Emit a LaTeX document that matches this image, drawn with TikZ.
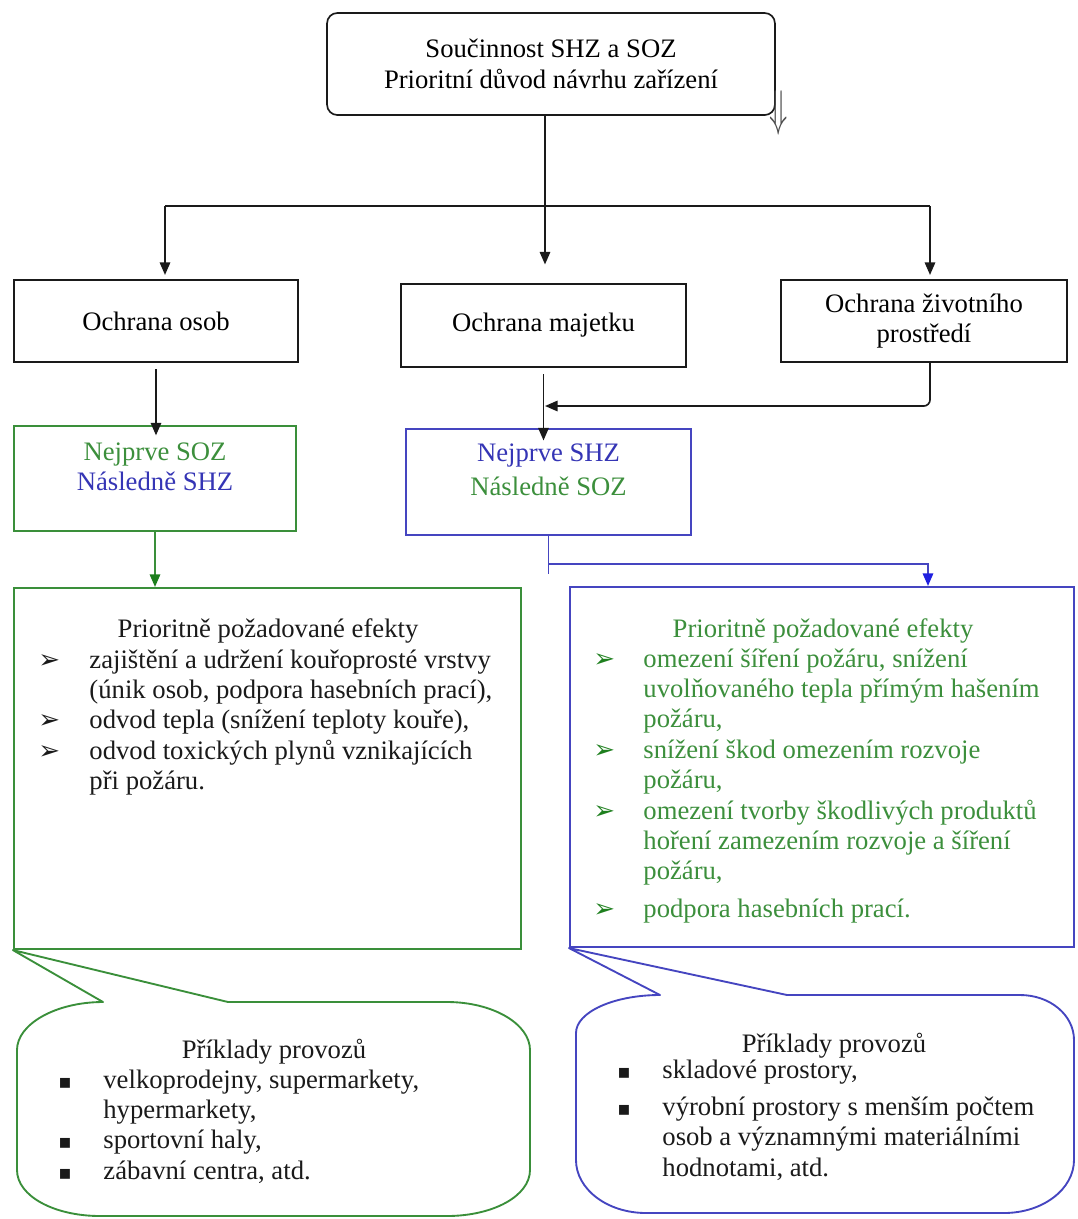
\documentclass[tikz,border=0pt]{standalone}
\usepackage{fontspec}
\setmainfont{Liberation Serif}
\newfontfamily\symfont{DejaVu Sans}
\usepackage{graphicx}
\usepackage{xcolor}
\usepackage{tikz}
\usetikzlibrary{arrows.meta}
\definecolor{ink}{HTML}{1A1A1A}
\definecolor{grn}{HTML}{3A8F3A}
\definecolor{grntext}{HTML}{3C8F3C}
\definecolor{grnhead}{HTML}{1E7F1E}
\definecolor{blu}{HTML}{4545C0}
\definecolor{blutext}{HTML}{3535B5}
\definecolor{bluhead}{HTML}{2020E0}
\newcommand{\arrbul}{{\symfont\fontsize{12.5}{12}\selectfont ➢}}
\newcommand{\sqbul}{{\symfont\fontsize{9.5}{10}\selectfont ▪}}
\tikzset{
  line/.style={draw=ink, line width=0.8pt},
  arr/.style={line, -{Triangle[length=6pt,width=5pt]}},
  grnarr/.style={draw=grn, line width=0.8pt, -{Triangle[length=6pt,width=5pt,color=grnhead]}},
  bluline/.style={draw=blu, line width=0.8pt},
  bluarr/.style={bluline, -{Triangle[length=6pt,width=5pt,color=bluhead]}},
  topbox/.style={draw=ink, line width=0.8pt, rounded corners=5pt, align=center},
  box/.style={draw=ink, line width=0.8pt, align=center},
  grnbox/.style={draw=grn, line width=1pt},
  blubox/.style={draw=blu, line width=1pt},
  txt/.style={text=ink, align=center},
  list/.style={anchor=base west, inner sep=0pt},
  callout/.style={line width=0.9pt, line join=round}
}

\begin{document}
\begin{tikzpicture}[x=0.48pt, y=-0.48pt, font=\fontsize{12.8}{14.6}\selectfont]
  \useasboundingbox (0,0) rectangle (1078,1219);

  % top box
  \node[topbox, minimum width=215pt, minimum height=49pt] (top) at (551,64)
    {Součinnost SHZ a SOZ\\Prioritní důvod návrhu zařízení};
  \node[text=gray!60!black] (mark) at (779,113) {\scalebox{1.2}[2]{$\Downarrow$}};

  % second row
  \node[box, minimum width=136.3pt, minimum height=39.4pt] (osob) at (156,321) {Ochrana osob};
  \node[box, minimum width=136.8pt, minimum height=39.8pt] (maj) at (543.5,325.5) {Ochrana majetku};
  \node[box, minimum width=137.3pt, minimum height=39.4pt] (prost) at (924,321) {Ochrana životního\\prostředí};

  % split to the three boxes
  \coordinate (split) at (545,206);
  \coordinate (hL) at (165,206);
  \coordinate (hR) at (930,206);
  \draw[line] (hL) -- (hR);
  \draw[arr, shorten >=9pt] (top.south -| split) -- (split |- maj.north);
  \draw[arr, shorten >=2pt] (hL) -- (hL |- osob.north);
  \draw[arr, shorten >=2pt] (hR) -- (hR |- prost.north);

  % order boxes
  \node[grnbox, minimum width=135.4pt, minimum height=50.4pt] (soz) at (155,478.5) {};
  \node[txt] (sozT) at (155,467) {\textcolor{grntext}{Nejprve SOZ}\\\textcolor{blutext}{Následně SHZ}};
  \node[blubox, minimum width=136.8pt, minimum height=50.9pt] (shz) at (548.5,482) {};
  \node[txt] (shzT) at (548.5,470) {\textcolor{blutext}{Nejprve SHZ}\\[2pt]\textcolor{grntext}{Následně SOZ}};

  \draw[arr, shorten <=3pt, shorten >=-5pt] (osob.south) -- (osob.south |- soz.north);
  \coordinate (merge) at (545,406);
  \draw[arr, shorten <=3pt, shorten >=-6pt] (maj.south) -- (maj.south |- shz.north);
  \draw[arr, rounded corners=3pt] (prost.south -| hR) -- (hR |- merge) -- (merge);

  % effects
  \node[grnbox, minimum width=243.4pt, minimum height=173.3pt] (effL) at (267.5,768.5) {};
  \node[blubox, minimum width=241.9pt, minimum height=172.8pt] (effR) at (822,767) {};

  \draw[grnarr] (soz.south) -- (soz.south |- effL.north);
  \coordinate (bend) at (928,564);
  \draw[bluline] (shz.south) -- ++(0,38);
  \draw[bluarr] (shz.south |- bend) -- (bend) -- (bend |- effR.north);

  \node[text=ink, anchor=base] (effLT) at (268,637) {Prioritně požadované efekty};
  \node[list, text=ink] (effLlist) at (38,668) {%
    \begin{tabular}[t]{@{}p{24.5pt}@{}l@{}}
      \arrbul & zajištění a udržení kouřoprosté vrstvy\\
              & (únik osob, podpora hasebních prací),\\
      \arrbul & odvod tepla (snížení teploty kouře),\\
      \arrbul & odvod toxických plynů vznikajících\\
              & při požáru.
    \end{tabular}};

  \node[text=grntext, anchor=base] (effRT) at (823,637) {Prioritně požadované efekty};
  \node[list, text=grntext] (effRlist) at (593,667) {%
    \begin{tabular}[t]{@{}p{24pt}@{}l@{}}
      \textcolor{grnhead}{\arrbul} & omezení šíření požáru, snížení\\
              & uvolňovaného tepla přímým hašením\\
              & požáru,\\
      \textcolor{grnhead}{\arrbul} & snížení škod omezením rozvoje\\
              & požáru,\\
      \textcolor{grnhead}{\arrbul} & omezení tvorby škodlivých produktů\\
              & hoření zamezením rozvoje a šíření\\
              & požáru,\\[3.5pt]
      \textcolor{grnhead}{\arrbul} & podpora hasebních prací.
    \end{tabular}};

  % callouts
  \draw[callout, draw=grn] (effL.south west) -- (103,1002)
    .. controls (56,1002) and (17,1024) .. (17,1050) -- (17,1170)
    .. controls (17,1196) and (54,1216) .. (100,1216) -- (447,1216)
    .. controls (493,1216) and (530,1196) .. (530,1170) -- (530,1050)
    .. controls (530,1024) and (493,1002) .. (447,1002) -- (228,1002) -- cycle;
  \draw[callout, draw=blu] (effR.south west) -- (660,995)
    .. controls (614,995) and (576,1012) .. (576,1033) -- (576,1160)
    .. controls (576,1189) and (607,1213) .. (646,1213) -- (1004,1213)
    .. controls (1043,1213) and (1074,1189) .. (1074,1160) -- (1074,1040)
    .. controls (1074,1015) and (1050,995) .. (1020,995) -- (787,995) -- cycle;

  \node[text=ink, anchor=base] (exLT) at (274,1058) {Příklady provozů};
  \node[list, text=ink] (exLlist) at (58,1088) {%
    \begin{tabular}[t]{@{}p{21.6pt}@{}l@{}}
      \sqbul & velkoprodejny, supermarkety,\\
             & hypermarkety,\\
      \sqbul & sportovní haly,\\
      \sqbul & zábavní centra, atd.
    \end{tabular}};

  \node[text=ink, anchor=base] (exRT) at (834,1052) {Příklady provozů};
  \node[list, text=ink] (exRlist) at (617,1078) {%
    \begin{tabular}[t]{@{}p{21.6pt}@{}l@{}}
      \sqbul & skladové prostory,\\[3.4pt]
      \sqbul & výrobní prostory s menším počtem\\
             & osob a významnými materiálními\\
             & hodnotami, atd.
    \end{tabular}};
\end{tikzpicture}
\end{document}
